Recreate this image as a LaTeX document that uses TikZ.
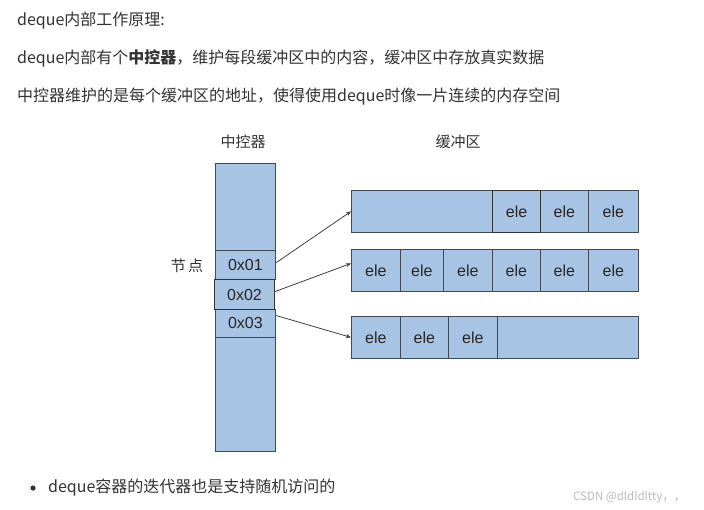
\documentclass[tikz,border=0pt]{standalone}
\usepackage{fontspec}
\setmainfont{Noto Sans CJK SC}
\newfontfamily\arialf{Liberation Sans}
\usetikzlibrary{arrows.meta}
\definecolor{cellfill}{HTML}{A8C4E5}
\definecolor{cellline}{HTML}{3F4A57}
\definecolor{txt}{HTML}{333333}
\definecolor{wm}{HTML}{BBBBBB}
\begin{document}
\begin{tikzpicture}[x=1pt,y=-1pt,
  para/.style={anchor=base west,inner sep=0,font=\fontsize{16}{18}\selectfont,text=txt},
  lbl/.style={inner sep=0,font=\fontsize{15}{17}\selectfont,text=txt},
  cell/.style={draw=cellline,fill=cellfill,line width=0.8pt,inner sep=0,anchor=north west,
    font=\arialf\fontsize{16}{18}\selectfont,text=black!85,minimum height=42pt},
  ccell/.style={cell,minimum width=60pt},
  conn/.style={draw=black!75,line width=0.8pt,-{Stealth[length=5pt,width=4pt]}}]
\useasboundingbox (0,0) rectangle (704,509);
\fill[white] (0,0) rectangle (704,509);

% paragraph text
\node[para] (t1) at (17,25) {deque内部工作原理:};
\node[para] (t2) at (17,63) {deque内部有个\textbf{中控器}，维护每段缓冲区中的内容，缓冲区中存放真实数据};
\node[para] (t3) at (17,101) {中控器维护的是每个缓冲区的地址，使得使用deque时像一片连续的内存空间};

% labels
\node[lbl] (lctrl) at (243,142) {中控器};
\node[lbl] (lbuf) at (458,142) {缓冲区};
\node[lbl] (lnode) at (187,266) {节\,点};

% controller column
\node[ccell,minimum height=87pt] (ctop) at (215,163) {};
\node[ccell,minimum height=29pt] (c01) at (215,250) {0x01};
\node[ccell,minimum height=28pt] (c03) at (215,309) {0x03};
\node[ccell,minimum height=114pt] (cbot) at (215,337) {};
\node[ccell,minimum height=30pt,line width=1.1pt,draw=black!80] (c02) at (214,279) {0x02};

% buffer row 1
\node[cell,minimum width=141pt] (r1a) at (351,190) {};
\node[cell,minimum width=48pt] (r1b) at (540,190) {ele};
\node[cell,minimum width=50pt] (r1c) at (588,190) {ele};
\node[cell,minimum width=48pt,line width=1.1pt,draw=black!80] (r1e) at (492,190) {ele};

% buffer row 2
\node[cell,minimum width=49pt] (r2a) at (351,249) {ele};
\node[cell,minimum width=43pt] (r2b) at (400,249) {ele};
\node[cell,minimum width=49pt] (r2c) at (443,249) {ele};
\node[cell,minimum width=48pt] (r2d) at (492,249) {ele};
\node[cell,minimum width=48pt] (r2e) at (540,249) {ele};
\node[cell,minimum width=50pt] (r2f) at (588,249) {ele};

% buffer row 3
\node[cell,minimum width=49pt] (r3a) at (351,316) {ele};
\node[cell,minimum width=48pt] (r3b) at (400,316) {ele};
\node[cell,minimum width=49pt] (r3c) at (448,316) {ele};
\node[cell,minimum width=141pt] (r3d) at (497,316) {};

% connectors
\draw[conn] ([yshift=2pt]c01.east) -- (r1a.west);
\draw[conn] ([yshift=3pt]c02.east) -- ([yshift=7pt]r2a.west);
\draw[conn] ([yshift=8pt]c03.east) -- (r3a.west);

% bullet
\fill[txt] (33,488) circle (2.6);
\node[para] (t4) at (48,492) {deque容器的迭代器也是支持随机访问的};

% watermark
\node[anchor=base west,inner sep=0,font=\fontsize{11.5}{13}\selectfont,text=wm] (wmk) at (573,500) {CSDN @dldldltty，，};
\end{tikzpicture}
\end{document}
